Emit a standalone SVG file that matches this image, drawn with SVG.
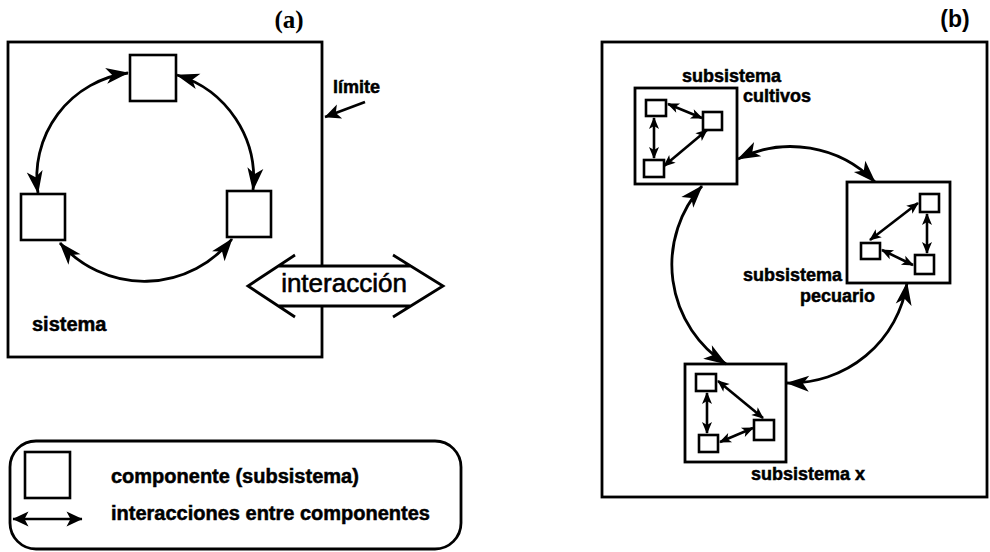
<svg xmlns="http://www.w3.org/2000/svg" width="990" height="552" viewBox="0 0 990 552">
<defs>
<style>
.box{fill:#fff;stroke:#000;stroke-width:2.8}
.frame{fill:none;stroke:#000;stroke-width:2.8}
.sq{fill:#fff;stroke:#000;stroke-width:2.6}
.conn{fill:none;stroke:#000;stroke-width:2.8;marker-start:url(#ah);marker-end:url(#ah)}
.sconn{fill:none;stroke:#000;stroke-width:2.6;marker-start:url(#sah);marker-end:url(#sah)}
.lbl{font-family:"Liberation Sans",Arial,Helvetica,sans-serif;font-weight:bold;fill:#000;stroke:#000;stroke-width:0.5}
</style>
<marker id="ah" markerUnits="userSpaceOnUse" viewBox="0 0 24 16" markerWidth="24" markerHeight="16" refX="22" refY="8" orient="auto-start-reverse" overflow="visible">
<path d="M0,0 L23,8 L0,16 L6,8 Z" fill="#000"/>
</marker>
<marker id="mah" markerUnits="userSpaceOnUse" viewBox="0 0 17 15" markerWidth="17" markerHeight="15" refX="15.5" refY="7.5" orient="auto-start-reverse" overflow="visible">
<path d="M0,0 L16,7.5 L0,15 L4,7.5 Z" fill="#000"/>
</marker>
<marker id="sah" markerUnits="userSpaceOnUse" viewBox="0 0 12 10" markerWidth="12" markerHeight="10" refX="11" refY="5" orient="auto-start-reverse" overflow="visible">
<path d="M0,0 L12,5 L0,10 L3,5 Z" fill="#000"/>
</marker>
</defs>
<rect width="990" height="552" fill="#fff"/>

<!-- Panel (a) -->
<text x="289" y="28" text-anchor="middle" font-family="'Liberation Serif','Times New Roman',serif" font-weight="bold" font-size="25" fill="#000">(a)</text>
<g id="sistema-a">
<rect class="frame" x="8" y="42" width="314" height="315"/>
<text class="lbl" x="32" y="331" font-size="20">sistema</text>
</g>
<g id="comp-top"><rect class="sq" x="130" y="55" width="46" height="46"/></g>
<g id="comp-left"><rect class="sq" x="21" y="194" width="44" height="46"/></g>
<g id="comp-right"><rect class="sq" x="227" y="191" width="44" height="46"/></g>
<g id="limite">
<text class="lbl" x="333" y="93" font-size="18">límite</text>
</g>
<g id="interaccion">
<polygon points="248,286 278,266 411,266 443,286 411,306 278,306" fill="#fff"/>
<path d="M295,255 L248,286 L295,317 M393,255 L443,286 L393,317 M278,266 L411,266 M278,306 L411,306" fill="none" stroke="#000" stroke-width="2.8" stroke-linejoin="miter"/>
<text x="344" y="292" text-anchor="middle" font-family="'Liberation Sans',Arial,sans-serif" font-size="26" fill="#000" stroke="#000" stroke-width="0.6">interacción</text>
</g>

<!-- Legend -->
<g id="leyenda">
<rect class="frame" x="10" y="441" width="451" height="108" rx="26" ry="26"/>
<rect class="sq" x="25" y="452" width="45" height="46"/>
<line x1="13" y1="519" x2="82" y2="519" stroke="#000" stroke-width="2.6" marker-start="url(#mah)" marker-end="url(#mah)"/>
<text class="lbl" x="111" y="483" font-size="20">componente (subsistema)</text>
<text class="lbl" x="111" y="520" font-size="20">interacciones entre componentes</text>
</g>

<!-- Panel (b) -->
<text x="955" y="27" text-anchor="middle" font-family="'Liberation Sans',Arial,sans-serif" font-weight="bold" font-size="23" fill="#000">(b)</text>
<g id="sistema-b"><rect class="frame" x="602" y="42" width="385" height="455"/></g>

<g id="sub-cultivos">
<rect class="box" x="635" y="88" width="102" height="96"/>
<rect class="sq" x="646" y="100" width="20" height="16"/>
<rect class="sq" x="703" y="112" width="19" height="18"/>
<rect class="sq" x="644" y="160" width="20" height="17"/>
<line class="sconn" x1="654" y1="118" x2="654" y2="158"/>
<line class="sconn" x1="668" y1="104" x2="702" y2="118"/>
<line class="sconn" x1="664" y1="166" x2="707" y2="130"/>
<text class="lbl" x="682" y="82" font-size="18">subsistema</text>
<text class="lbl" x="743" y="102" font-size="18">cultivos</text>
</g>

<g id="sub-pecuario">
<rect class="box" x="847" y="182" width="103" height="101"/>
<rect class="sq" x="920" y="194" width="19" height="18"/>
<rect class="sq" x="861" y="243" width="19" height="16"/>
<rect class="sq" x="915" y="255" width="19" height="19"/>
<line class="sconn" x1="918" y1="203" x2="870" y2="240"/>
<line class="sconn" x1="927" y1="214" x2="927" y2="253"/>
<line class="sconn" x1="882" y1="250" x2="913" y2="265"/>
<text class="lbl" x="743" y="281" font-size="18">subsistema</text>
<text class="lbl" x="800" y="302" font-size="18">pecuario</text>
</g>

<g id="sub-x">
<rect class="box" x="685" y="364" width="101" height="98"/>
<rect class="sq" x="696" y="374" width="20" height="17"/>
<rect class="sq" x="699" y="435" width="19" height="17"/>
<rect class="sq" x="754" y="420" width="20" height="20"/>
<line class="sconn" x1="707" y1="393" x2="707" y2="433"/>
<line class="sconn" x1="718" y1="381" x2="763" y2="418"/>
<line class="sconn" x1="720" y1="442" x2="753" y2="428"/>
<text class="lbl" x="751" y="480" font-size="18">subsistema x</text>
</g>

<!-- Connectors -->
<g id="connectors">
<path class="conn" d="M128,73 A105,105 0 0 0 38,193"/>
<path class="conn" d="M177,75 A108,108 0 0 1 253,190"/>
<path class="conn" d="M60,243 A112,112 0 0 0 232,239"/>
<line x1="365" y1="102" x2="325" y2="117" stroke="#000" stroke-width="2.6" marker-end="url(#mah)"/>
<path class="conn" d="M738,159 A118,118 0 0 1 875,182"/>
<path class="conn" d="M702,186 A118,118 0 0 0 726,364"/>
<path class="conn" d="M907,283 A118,118 0 0 1 787,383"/>
</g>
</svg>
